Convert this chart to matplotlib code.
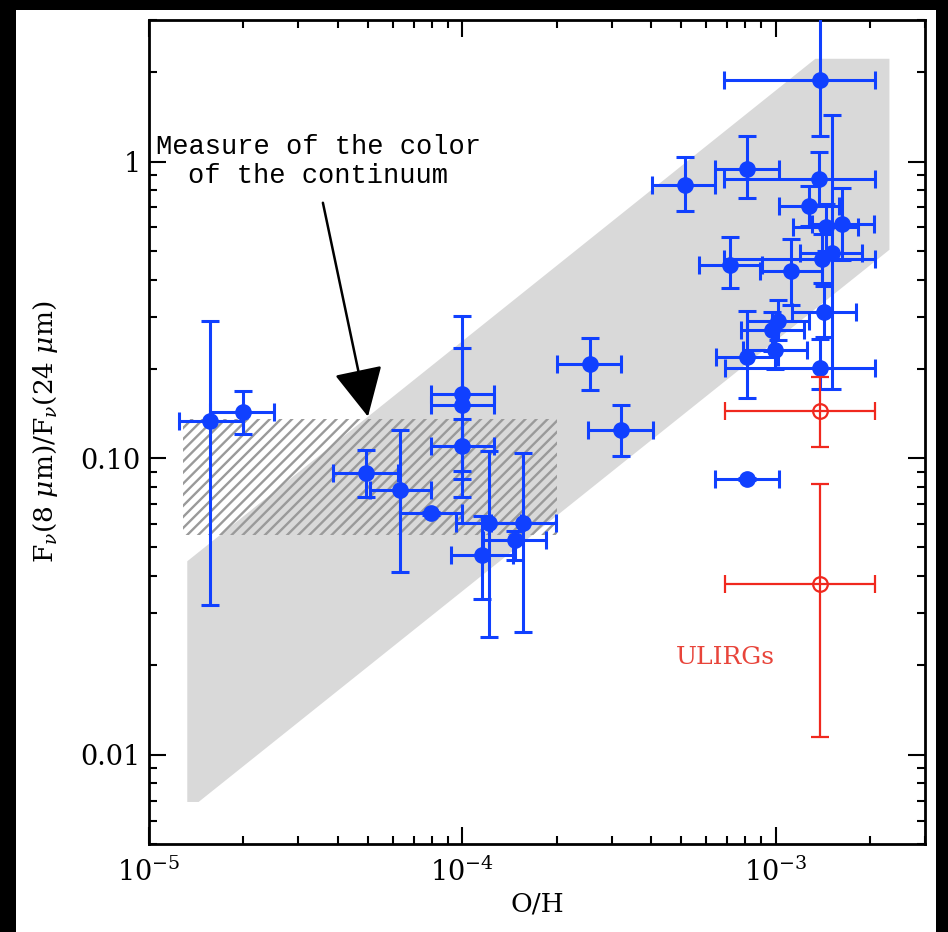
import matplotlib
matplotlib.use('Agg')
import matplotlib.pyplot as plt
import numpy as np
from matplotlib.patches import Polygon, Rectangle
from matplotlib.ticker import FixedLocator, FuncFormatter, LogLocator, NullFormatter

plt.rcParams['font.family'] = ['DejaVu Serif']
plt.rcParams['mathtext.fontset'] = 'dejavuserif'
plt.rcParams['hatch.linewidth'] = 1.7
plt.rcParams['hatch.color'] = '#9a9a9a'

# blue sample: O/H, ratio, and the ends of their error bars
blue_x = [2.55e-4, 3.21e-4, 1.57e-5, 1.99e-5, 4.93e-5, 6.35e-5, 7.96e-5, 1.0e-4,
          1.0e-4, 1.0e-4, 1.213e-4, 1.563e-4, 1.47e-4, 1.156e-4,
          1.39e-3, 5.14e-4, 8.11e-4, 1.38e-3, 1.28e-3, 1.45e-3, 1.63e-3,
          7.16e-4, 1.122e-3, 1.41e-3, 1.52e-3, 1.43e-3, 1.019e-3, 9.75e-4,
          9.98e-4, 8.11e-4, 1.39e-3, 8.11e-4]
blue_y = [0.208, 0.124, 0.133, 0.1435, 0.0889, 0.0779, 0.0651, 0.164,
          0.151, 0.110, 0.0602, 0.0602, 0.0528, 0.0470,
          1.887, 0.831, 0.947, 0.876, 0.708, 0.601, 0.616,
          0.449, 0.426, 0.470, 0.491, 0.312, 0.290, 0.270,
          0.231, 0.219, 0.201, 0.0849]
blue_xlo = [2.0e-4, 2.52e-4, 1.25e-5, 1.57e-5, 3.88e-5, 5.09e-5, 6.35e-5, 7.96e-5,
            7.96e-5, 7.96e-5, 9.57e-5, 1.233e-4, 1.164e-4, 9.18e-5,
            6.87e-4, 4.03e-4, 6.41e-4, 6.87e-4, 1.028e-3, 1.14e-3, 1.31e-3,
            5.70e-4, 8.94e-4, 6.87e-4, 1.20e-3, 1.13e-3, 8.1e-4, 7.75e-4,
            7.9e-4, 6.44e-4, 6.9e-4, 6.41e-4]
blue_xhi = [3.21e-4, 4.06e-4, 1.99e-5, 2.51e-5, 6.22e-5, 7.93e-5, 1.0e-4, 1.262e-4,
            1.262e-4, 1.265e-4, 1.54e-4, 1.99e-4, 1.845e-4, 1.453e-4,
            2.07e-3, 6.41e-4, 1.023e-3, 2.07e-3, 1.60e-3, 1.84e-3, 2.06e-3,
            9.05e-4, 1.41e-3, 2.07e-3, 1.89e-3, 1.80e-3, 1.28e-3, 1.23e-3,
            1.26e-3, 1.02e-3, 2.07e-3, 1.023e-3]
blue_ylo = [0.170, 0.102, 0.032, 0.121, 0.0742, 0.0412, 0.0643, 0.0906,
            0.0849, 0.0742, 0.0249, 0.0260, 0.0455, 0.0335,
            1.222, 0.681, 0.755, 0.715, 0.605, 0.50, 0.465,
            0.374, 0.328, 0.39, 0.171, 0.256, 0.25, 0.23,
            0.20, 0.159, 0.171, 0.0843]
blue_yhi = [0.255, 0.151, 0.290, 0.168, 0.1064, 0.124, 0.0659, 0.301,
            0.236, 0.135, 0.106, 0.104, 0.0567, 0.0637,
            5.0, 1.037, 1.222, 1.073, 0.828, 0.72, 0.816,
            0.557, 0.550, 0.57, 1.43, 0.380, 0.34, 0.31,
            0.27, 0.313, 0.253, 0.0855]

# ULIRGs
red_x = [1.39e-3, 1.39e-3]
red_y = [0.144, 0.0377]
red_xlo = [6.9e-4, 6.9e-4]
red_xhi = [2.07e-3, 2.07e-3]
red_ylo = [0.109, 0.01145]
red_yhi = [0.188, 0.0816]

# grey band outline (O/H, ratio)
band_x = [1.325e-5, 1.325e-5, 1.34e-3, 2.31e-3, 2.31e-3, 1.44e-5]
band_y = [0.00693, 0.0449, 2.22, 2.22, 0.504, 0.00693]

# hatched box
hatch_x = [1.28e-5, 2.0e-4]
hatch_y = [0.0552, 0.1356]

blue = '#1040ff'
red = '#f0281e'

fig = plt.figure(figsize=(9.48, 9.32), dpi=100, facecolor='black')
fig.add_artist(Rectangle((16 / 948, 0), 920 / 948, 922 / 932, transform=fig.transFigure,
                         facecolor='white', edgecolor='none', zorder=0))
ax = fig.add_axes([149 / 948, 88 / 932, 776 / 948, 824 / 932])
ax.set_xscale('log')
ax.set_yscale('log')
ax.set_xlim(1e-5, 3e-3)
ax.set_ylim(0.005, 3.0)

ax.add_patch(Polygon(list(zip(band_x, band_y)), closed=True, facecolor='#d9d9d9',
                     edgecolor='none', zorder=1))
ax.add_patch(Rectangle((hatch_x[0], hatch_y[0]), hatch_x[1] - hatch_x[0], hatch_y[1] - hatch_y[0],
                       facecolor='none', edgecolor='#9a9a9a', linewidth=0, hatch='///', zorder=2))

bx = np.array(blue_x)
by = np.array(blue_y)
ax.errorbar(bx, by,
            xerr=[bx - np.array(blue_xlo), np.array(blue_xhi) - bx],
            yerr=[by - np.array(blue_ylo), np.array(blue_yhi) - by],
            fmt='o', color=blue, ms=11, elinewidth=2.2, capsize=6.8, capthick=2.2, zorder=4)

rx = np.array(red_x)
ry = np.array(red_y)
ax.errorbar(rx, ry,
            xerr=[rx - np.array(red_xlo), np.array(red_xhi) - rx],
            yerr=[ry - np.array(red_ylo), np.array(red_yhi) - ry],
            fmt='o', color=red, mfc='none', mec=red, mew=1.6, ms=10.5,
            elinewidth=1.6, capsize=6.5, capthick=1.6, zorder=5)

ax.annotate('', xy=(5.0e-5, 0.138), xytext=(3.59e-5, 0.726),
            arrowprops=dict(arrowstyle='-|>,head_length=1.4,head_width=0.7',
                            mutation_scale=22, color='black', lw=1.8, shrinkA=0, shrinkB=0),
            zorder=6)
ax.text(0.218, 0.828, 'Measure of the color\nof the continuum', transform=ax.transAxes,
        ha='center', va='center', multialignment='center', family='Liberation Mono',
        fontsize=19.5, linespacing=1.15)
ax.text(6.93e-4, 0.0213, 'ULIRGs', color='#e8443a', fontsize=18, ha='center', va='center')

# axes cosmetics
for s in ax.spines.values():
    s.set_linewidth(2.0)
ax.tick_params(which='both', direction='in', top=True, right=True, width=1.5, labelsize=19.5)
ax.tick_params(which='major', length=12)
ax.tick_params(which='minor', length=6)
ax.tick_params(axis='x', pad=10)
ax.tick_params(axis='y', pad=6)
ax.xaxis.set_major_locator(FixedLocator([1e-5, 1e-4, 1e-3]))
ax.xaxis.set_major_formatter(FuncFormatter(lambda v, p: r'$10^{%d}$' % round(np.log10(v))))
ax.xaxis.set_minor_locator(LogLocator(base=10, subs=np.arange(2, 10)))
ax.xaxis.set_minor_formatter(NullFormatter())
ax.yaxis.set_major_locator(FixedLocator([0.01, 0.1, 1.0]))
ax.yaxis.set_major_formatter(FuncFormatter(lambda v, p: {0.01: '0.01', 0.1: '0.10', 1.0: '1'}[round(v, 2)]))
ax.yaxis.set_minor_locator(LogLocator(base=10, subs=np.arange(2, 10)))
ax.yaxis.set_minor_formatter(NullFormatter())

ax.set_xlabel('O/H', fontsize=19)
ax.xaxis.set_label_coords(0.5, -0.058)
ax.xaxis.label.set_va('top')
ax.set_ylabel(r'F$_\nu$(8 $\mu$m)/F$_\nu$(24 $\mu$m)', fontsize=19)
ax.yaxis.set_label_coords(-0.115, 0.5)

fig.savefig('out.png', dpi=100, facecolor=fig.get_facecolor())
